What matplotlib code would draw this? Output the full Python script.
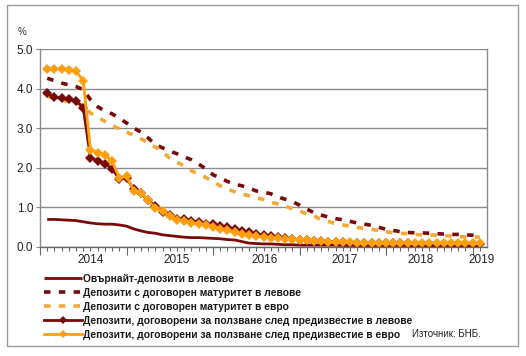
import matplotlib
matplotlib.use("Agg")
import matplotlib.pyplot as plt
import matplotlib.transforms as mtransforms
from matplotlib.patches import Rectangle
import numpy as np

plt.rcParams['font.family'] = ['Liberation Sans', 'DejaVu Sans']

# ---- data (monthly observations, 61 points) ----
overnight_bgn = [0.69, 0.69, 0.68, 0.67, 0.66, 0.63, 0.60, 0.58, 0.57, 0.57,
                 0.55, 0.52, 0.45, 0.40, 0.36, 0.34, 0.30, 0.28, 0.26, 0.24,
                 0.23, 0.23, 0.22, 0.21, 0.20, 0.18, 0.17, 0.13, 0.09, 0.08,
                 0.07, 0.07, 0.06, 0.05, 0.05, 0.04, 0.04, 0.04, 0.04, 0.04,
                 0.04, 0.03, 0.03, 0.03, 0.03, 0.03, 0.03, 0.03, 0.03, 0.03,
                 0.03, 0.02, 0.02, 0.02, 0.02, 0.02, 0.02, 0.02, 0.02, 0.02,
                 0.02]
maturity_bgn = [4.26, 4.20, 4.14, 4.09, 4.05, 3.97, 3.72, 3.54, 3.43, 3.36,
                3.25, 3.13, 3.00, 2.90, 2.75, 2.58, 2.50, 2.42, 2.35, 2.27,
                2.20, 2.09, 1.97, 1.82, 1.74, 1.65, 1.58, 1.54, 1.48, 1.41,
                1.38, 1.34, 1.26, 1.20, 1.14, 1.05, 0.95, 0.86, 0.80, 0.75,
                0.71, 0.68, 0.64, 0.60, 0.57, 0.54, 0.49, 0.44, 0.41, 0.38,
                0.36, 0.35, 0.35, 0.34, 0.33, 0.32, 0.31, 0.31, 0.30, 0.29,
                0.27]
maturity_eur = [3.80, 3.76, 3.72, 3.66, 3.64, 3.58, 3.38, 3.27, 3.17, 3.07,
                2.98, 2.90, 2.82, 2.73, 2.62, 2.52, 2.40, 2.24, 2.14, 2.04,
                1.92, 1.84, 1.75, 1.65, 1.54, 1.46, 1.39, 1.33, 1.29, 1.24,
                1.19, 1.13, 1.08, 1.03, 0.96, 0.91, 0.82, 0.78, 0.68, 0.64,
                0.58, 0.55, 0.52, 0.49, 0.46, 0.44, 0.41, 0.38, 0.35, 0.34,
                0.33, 0.31, 0.30, 0.30, 0.29, 0.28, 0.27, 0.25, 0.25, 0.25,
                0.24]
notice_bgn = [3.88, 3.78, 3.75, 3.73, 3.69, 3.51, 2.25, 2.17, 2.10, 1.97,
              1.72, 1.74, 1.45, 1.35, 1.18, 1.02, 0.89, 0.79, 0.70, 0.69,
              0.64, 0.63, 0.58, 0.57, 0.52, 0.50, 0.44, 0.40, 0.36, 0.33,
              0.30, 0.27, 0.25, 0.22, 0.20, 0.18, 0.16, 0.15, 0.14, 0.13,
              0.12, 0.11, 0.10, 0.10, 0.09, 0.09, 0.09, 0.09, 0.09, 0.09,
              0.09, 0.08, 0.08, 0.08, 0.08, 0.08, 0.08, 0.08, 0.08, 0.08,
              0.08]
notice_eur = [4.49, 4.49, 4.49, 4.47, 4.45, 4.19, 2.45, 2.38, 2.32, 2.16,
              1.75, 1.78, 1.42, 1.37, 1.18, 0.97, 0.91, 0.77, 0.68, 0.65,
              0.61, 0.58, 0.55, 0.50, 0.45, 0.41, 0.36, 0.33, 0.30, 0.26,
              0.24, 0.23, 0.21, 0.20, 0.19, 0.18, 0.16, 0.15, 0.14, 0.13,
              0.12, 0.11, 0.11, 0.10, 0.10, 0.10, 0.10, 0.10, 0.10, 0.10,
              0.10, 0.10, 0.10, 0.10, 0.10, 0.10, 0.09, 0.09, 0.09, 0.09,
              0.09]

series_labels = [
    "Овърнайт-депозити в левове",
    "Депозити с договорен матуритет в левове",
    "Депозити с договорен матуритет в евро",
    "Депозити, договорени за ползване след предизвестие в левове",
    "Депозити, договорени за ползване след предизвестие в евро",
]
year_labels = ["2014", "2015", "2016", "2017", "2018", "2019"]
year_label_pos = [6.0, 18.0, 30.2, 41.3, 51.8, 60.2]
year_tick_pos = [-1, 11, 23, 35, 47, 59]
y_ticks = [0, 1, 2, 3, 4, 5]
source_text = "Източник: БНБ."
unit_text = "%"

# ---- styling ----
DARK = "#7A0A0A"
ORANGE_D = "#F5A733"
ORANGE = "#FF9E0F"
GRID = "#8C8C8C"

W, H = 526, 356
fig = plt.figure(figsize=(W / 100, H / 100), dpi=100)
fig.patches.append(Rectangle((7 / W, 1 - 346 / H), 511 / W, 341 / H,
                             transform=fig.transFigure, fill=False,
                             edgecolor="#9A9A9A", linewidth=1.0))

ax = fig.add_axes([40 / W, 1 - 246.7 / H, 447 / W, 197.7 / H])
x = np.arange(len(overnight_bgn))

l1, = ax.plot(x, overnight_bgn, color=DARK, lw=2.0, solid_capstyle='butt')
l2, = ax.plot(x, maturity_bgn, color=DARK, lw=2.6, dashes=(1.8, 2.3))
l3, = ax.plot(x, maturity_eur, color=ORANGE_D, lw=2.6, dashes=(1.8, 2.3))
l4, = ax.plot(x, notice_bgn, color=DARK, lw=2.0, marker='D', ms=5.3,
              markeredgewidth=0)
l5, = ax.plot(x, notice_eur, color=ORANGE, lw=2.0, marker='D', ms=5.3,
              markeredgewidth=0)

ax.set_xlim(-1, 61)
ax.set_ylim(0, 5)
ax.set_yticks(y_ticks)
ax.set_yticklabels([f"{v:.1f}" for v in y_ticks])
ax.yaxis.grid(True, color=GRID, lw=1.0)
ax.set_axisbelow(True)
ax.tick_params(axis='y', length=3, width=0.8, color=GRID, labelsize=8.5,
               pad=2, labelcolor="#222222")
ax.set_xticks(year_tick_pos)
ax.set_xticklabels([])
ax.set_xticks(np.arange(-1, 61, 1), minor=True)
ax.tick_params(axis='x', which='major', length=6, width=0.8, color="#666666",
               direction='out')
ax.tick_params(axis='x', which='minor', length=3, width=0.8, color="#666666",
               direction='out')
for s in ['left', 'right']:
    ax.spines[s].set_color(GRID)
    ax.spines[s].set_linewidth(1.0)
ax.spines['top'].set_visible(False)
ax.spines['bottom'].set_color("#666666")
ax.spines['bottom'].set_linewidth(1.0)

trans = mtransforms.blended_transform_factory(ax.transData, ax.transAxes)
for p, lab in zip(year_label_pos, year_labels):
    ax.text(p, -13.5 / 197.7, lab, transform=trans, ha='center', va='center',
            fontsize=8.5, color="#222222")

fig.text(22 / W, 1 - 32 / H, unit_text, ha='center', va='center', fontsize=7,
         color="#333333")

leg = fig.legend([l1, l2, l3, l4, l5], series_labels, loc='upper left',
                 bbox_to_anchor=(44 / W, 1 - 274 / H), frameon=False,
                 prop={'size': 7.35, 'weight': 'bold'}, handlelength=3.7,
                 handletextpad=0.1, labelspacing=0.38, borderpad=0,
                 borderaxespad=0, markerscale=0.8)
for t in leg.get_texts():
    t.set_color("#1A1A1A")

fig.text(412 / W, 1 - 334 / H, source_text, ha='left', va='center',
         fontsize=7, color="#222222")

fig.savefig("out.png", dpi=100)
